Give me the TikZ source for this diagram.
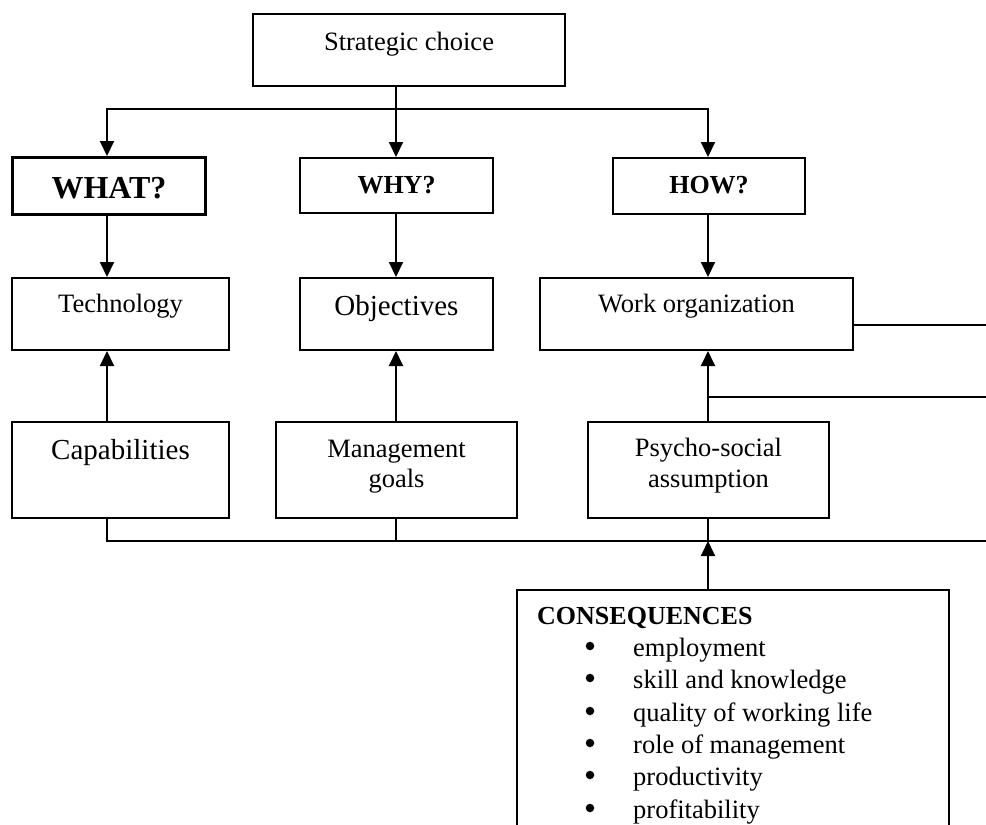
\documentclass[tikz,border=0pt]{standalone}
\usepackage{fontspec}
\setmainfont{Liberation Serif}
\usetikzlibrary{arrows.meta}

\begin{document}
\begin{tikzpicture}[x=1pt, y=-1pt,
  box/.style={draw, line width=2pt, inner sep=0pt, anchor=north west},
  lbl/.style={anchor=base, inner sep=0pt},
  item/.style={anchor=base west, inner sep=0pt},
  bulletdot/.style={circle, fill=black, inner sep=0pt, minimum size=8.5pt},
  link/.style={line width=2pt},
  tipend/.style={line width=2pt, -{Triangle[width=14pt,length=15pt]}},
  tipboth/.style={line width=2pt, {Triangle[width=14pt,length=15pt]}-{Triangle[width=14pt,length=15pt]}},
  fnorm/.style={font=\fontsize{26.5}{31}\selectfont},
  fbig/.style={font=\fontsize{29}{34}\selectfont},
  fhead/.style={font=\bfseries\fontsize{26}{31}\selectfont},
  fwhat/.style={font=\bfseries\fontsize{32}{38}\selectfont}
]
\useasboundingbox (0,0) rectangle (986,825);
\fill[white] (0,0) rectangle (986,825);
\clip (0,0) rectangle (986,825);

% columns and bus lines
\coordinate (colA) at (107,0);
\coordinate (colB) at (396,0);
\coordinate (colC) at (708,0);
\coordinate (edge) at (990,0);
\coordinate (busTop) at (0,109);
\coordinate (woOut) at (0,325);
\coordinate (branch) at (0,397);
\coordinate (busBot) at (0,541);

% boxes
\node[box, minimum width=312, minimum height=72] (sc) at (252,13) {};
\node[box, line width=3pt, minimum width=193, minimum height=57] (what) at (11,156) {};
\node[box, minimum width=193, minimum height=55] (why) at (299,157) {};
\node[box, minimum width=192, minimum height=56] (how) at (612,157) {};
\node[box, minimum width=217, minimum height=72] (tech) at (11,277) {};
\node[box, minimum width=193, minimum height=72] (obj) at (299,277) {};
\node[box, minimum width=313, minimum height=72] (wo) at (539,277) {};
\node[box, minimum width=217, minimum height=96] (cap) at (11,421) {};
\node[box, minimum width=241, minimum height=96] (mg) at (275,421) {};
\node[box, minimum width=241, minimum height=96] (psa) at (587,421) {};
\node[box, minimum width=432, minimum height=260] (cons) at (516,589) {};

% box texts
\node[lbl, fnorm] (sc-t) at (sc.center |- 0,50) {Strategic choice};
\node[lbl, fwhat] (what-t) at (what.center |- 0,198) {WHAT?};
\node[lbl, fhead] (why-t) at (why.center |- 0,193) {WHY?};
\node[lbl, fhead] (how-t) at (how.center |- 0,193) {HOW?};
\node[lbl, fnorm] (tech-t) at (tech.center |- 0,312) {Technology};
\node[lbl, fbig] (obj-t) at (obj.center |- 0,315) {Objectives};
\node[lbl, fnorm] (wo-t) at (wo.center |- 0,312) {Work organization};
\node[lbl, fbig] (cap-t) at (cap.center |- 0,459) {Capabilities};
\node[lbl, fnorm] (mg-t1) at (mg.center |- 0,457) {Management};
\node[lbl, fnorm] (mg-t2) at (mg.center |- 0,487) {goals};
\node[lbl, fnorm] (psa-t1) at (psa.center |- 0,456) {Psycho-social};
\node[lbl, fnorm] (psa-t2) at (psa.center |- 0,487) {assumption};

% consequences list
\node[item, fhead] (cons-h) at (537,624) {CONSEQUENCES};
\foreach \y/\txt [count=\i] in {656/employment, 688/skill and knowledge,
    721/quality of working life, 753/role of management,
    785/productivity, 818/profitability} {
  \node[bulletdot] (bul-\i) at (590,\y-10) {};
  \node[item, fnorm] (itm-\i) at (633,\y) {\txt};
}

% top distribution
\draw[tipend] (sc.south -| colB) -- (why.north -| colB);
\draw[tipboth] (what.north -| colA) -- (busTop -| colA) -- (busTop -| colC) -- (how.north -| colC);

% downward links
\draw[tipend] (what.south -| colA) -- (tech.north -| colA);
\draw[tipend] (why.south -| colB) -- (obj.north -| colB);
\draw[tipend] (how.south -| colC) -- (wo.north -| colC);

% upward links
\draw[tipend] (cap.north -| colA) -- (tech.south -| colA);
\draw[tipend] (mg.north -| colB) -- (obj.south -| colB);
\draw[tipend] (psa.north -| colC) -- (wo.south -| colC);
\draw[link] (branch -| colC) -- (branch -| edge);
\draw[link] (woOut -| wo.east) -- (woOut -| edge);

% bottom bus
\draw[link] (cap.south -| colA) -- (busBot -| colA) -- (busBot -| edge);
\draw[link] (mg.south -| colB) -- (busBot -| colB);
\draw[link] (psa.south -| colC) -- (busBot -| colC);
\draw[tipend] (cons.north -| colC) -- (busBot -| colC);
\end{tikzpicture}
\end{document}
